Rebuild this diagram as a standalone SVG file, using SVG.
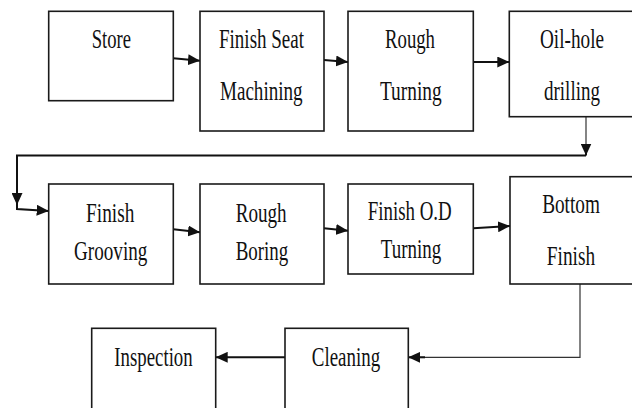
<svg xmlns="http://www.w3.org/2000/svg" width="632" height="408" viewBox="0 0 632 408">
<style>
.box{fill:#fff;stroke:#1a1a1a;stroke-width:1.6}
.t{font-family:"Liberation Serif","Times New Roman",serif;font-size:28px;fill:#111;text-anchor:middle}
.c{fill:none;stroke:#111;stroke-width:2}
.thin{fill:none;stroke:#333;stroke-width:1.2}
</style>
<defs>
<marker id="ah" markerUnits="userSpaceOnUse" markerWidth="13" markerHeight="11" refX="12" refY="5.5" orient="auto">
<path d="M0,0 L12,5.5 L0,11 z" fill="#111"/>
</marker>
</defs>
<rect width="632" height="408" fill="#fff"/>
<g id="connectors">
<path class="c" d="M173.3,58.3 L200,60.7" marker-end="url(#ah)"/>
<path class="c" d="M324,60 L348,62" marker-end="url(#ah)"/>
<path class="c" d="M473.3,62 L509.3,62" marker-end="url(#ah)"/>
<path class="thin" d="M586,116.7 V150" />
<path class="c" d="M586,145 V155.5" marker-end="url(#ah)"/>
<path class="c" d="M586,155.5 H17 V205" marker-end="url(#ah)"/>
<path class="c" d="M17,204 V209 L48.7,211" marker-end="url(#ah)"/>
<path class="c" d="M173.3,229.3 L200,232.3" marker-end="url(#ah)"/>
<path class="c" d="M324,228.3 L348,230.7" marker-end="url(#ah)"/>
<path class="c" d="M473.3,228.3 L510,226" marker-end="url(#ah)"/>
<path class="thin" d="M580,284 V357.3 H420"/>
<path class="c" d="M425,357.3 H408.3" marker-end="url(#ah)"/>
<path class="c" d="M285,357.3 H215.7" marker-end="url(#ah)"/>
</g>
<g id="store">
<rect class="box" x="48.7" y="11.3" width="124.6" height="89.4"/>
<text class="t" x="111.3" y="48" textLength="39.3" lengthAdjust="spacingAndGlyphs">Store</text>
</g>
<g id="finish-seat">
<rect class="box" x="200" y="11.3" width="124" height="119.7"/>
<text class="t" x="261.5" y="48" textLength="85" lengthAdjust="spacingAndGlyphs">Finish Seat</text>
<text class="t" x="261.3" y="100" textLength="82.7" lengthAdjust="spacingAndGlyphs">Machining</text>
</g>
<g id="rough-turning">
<rect class="box" x="348" y="11.3" width="125.3" height="119.7"/>
<text class="t" x="410" y="48" textLength="50" lengthAdjust="spacingAndGlyphs">Rough</text>
<text class="t" x="410.8" y="100" textLength="61.7" lengthAdjust="spacingAndGlyphs">Turning</text>
</g>
<g id="oil-hole">
<rect class="box" x="509.3" y="11.3" width="126" height="105.4"/>
<text class="t" x="572" y="48" textLength="64" lengthAdjust="spacingAndGlyphs">Oil-hole</text>
<text class="t" x="572" y="100" textLength="56" lengthAdjust="spacingAndGlyphs">drilling</text>
</g>
<g id="finish-grooving">
<rect class="box" x="48.7" y="184" width="124.6" height="100"/>
<text class="t" x="110.2" y="221.7" textLength="48.3" lengthAdjust="spacingAndGlyphs">Finish</text>
<text class="t" x="110.7" y="260" textLength="73.3" lengthAdjust="spacingAndGlyphs">Grooving</text>
</g>
<g id="rough-boring">
<rect class="box" x="200" y="184" width="124" height="100"/>
<text class="t" x="261.2" y="221.7" textLength="51" lengthAdjust="spacingAndGlyphs">Rough</text>
<text class="t" x="262" y="260" textLength="52.6" lengthAdjust="spacingAndGlyphs">Boring</text>
</g>
<g id="finish-od-turning">
<rect class="box" x="348" y="184" width="125.3" height="90"/>
<text class="t" x="409.7" y="220" textLength="84" lengthAdjust="spacingAndGlyphs">Finish O.D</text>
<text class="t" x="411" y="258" textLength="60.5" lengthAdjust="spacingAndGlyphs">Turning</text>
</g>
<g id="bottom-finish">
<rect class="box" x="510" y="176.7" width="126" height="107.3"/>
<text class="t" x="571" y="213.3" textLength="57.7" lengthAdjust="spacingAndGlyphs">Bottom</text>
<text class="t" x="571" y="265" textLength="48.3" lengthAdjust="spacingAndGlyphs">Finish</text>
</g>
<g id="cleaning">
<rect class="box" x="285" y="328.3" width="123.3" height="90"/>
<text class="t" x="346" y="366" textLength="68.3" lengthAdjust="spacingAndGlyphs">Cleaning</text>
</g>
<g id="inspection">
<rect class="box" x="91.7" y="328.3" width="124" height="90"/>
<text class="t" x="153.5" y="366" textLength="78.4" lengthAdjust="spacingAndGlyphs">Inspection</text>
</g>
</svg>
